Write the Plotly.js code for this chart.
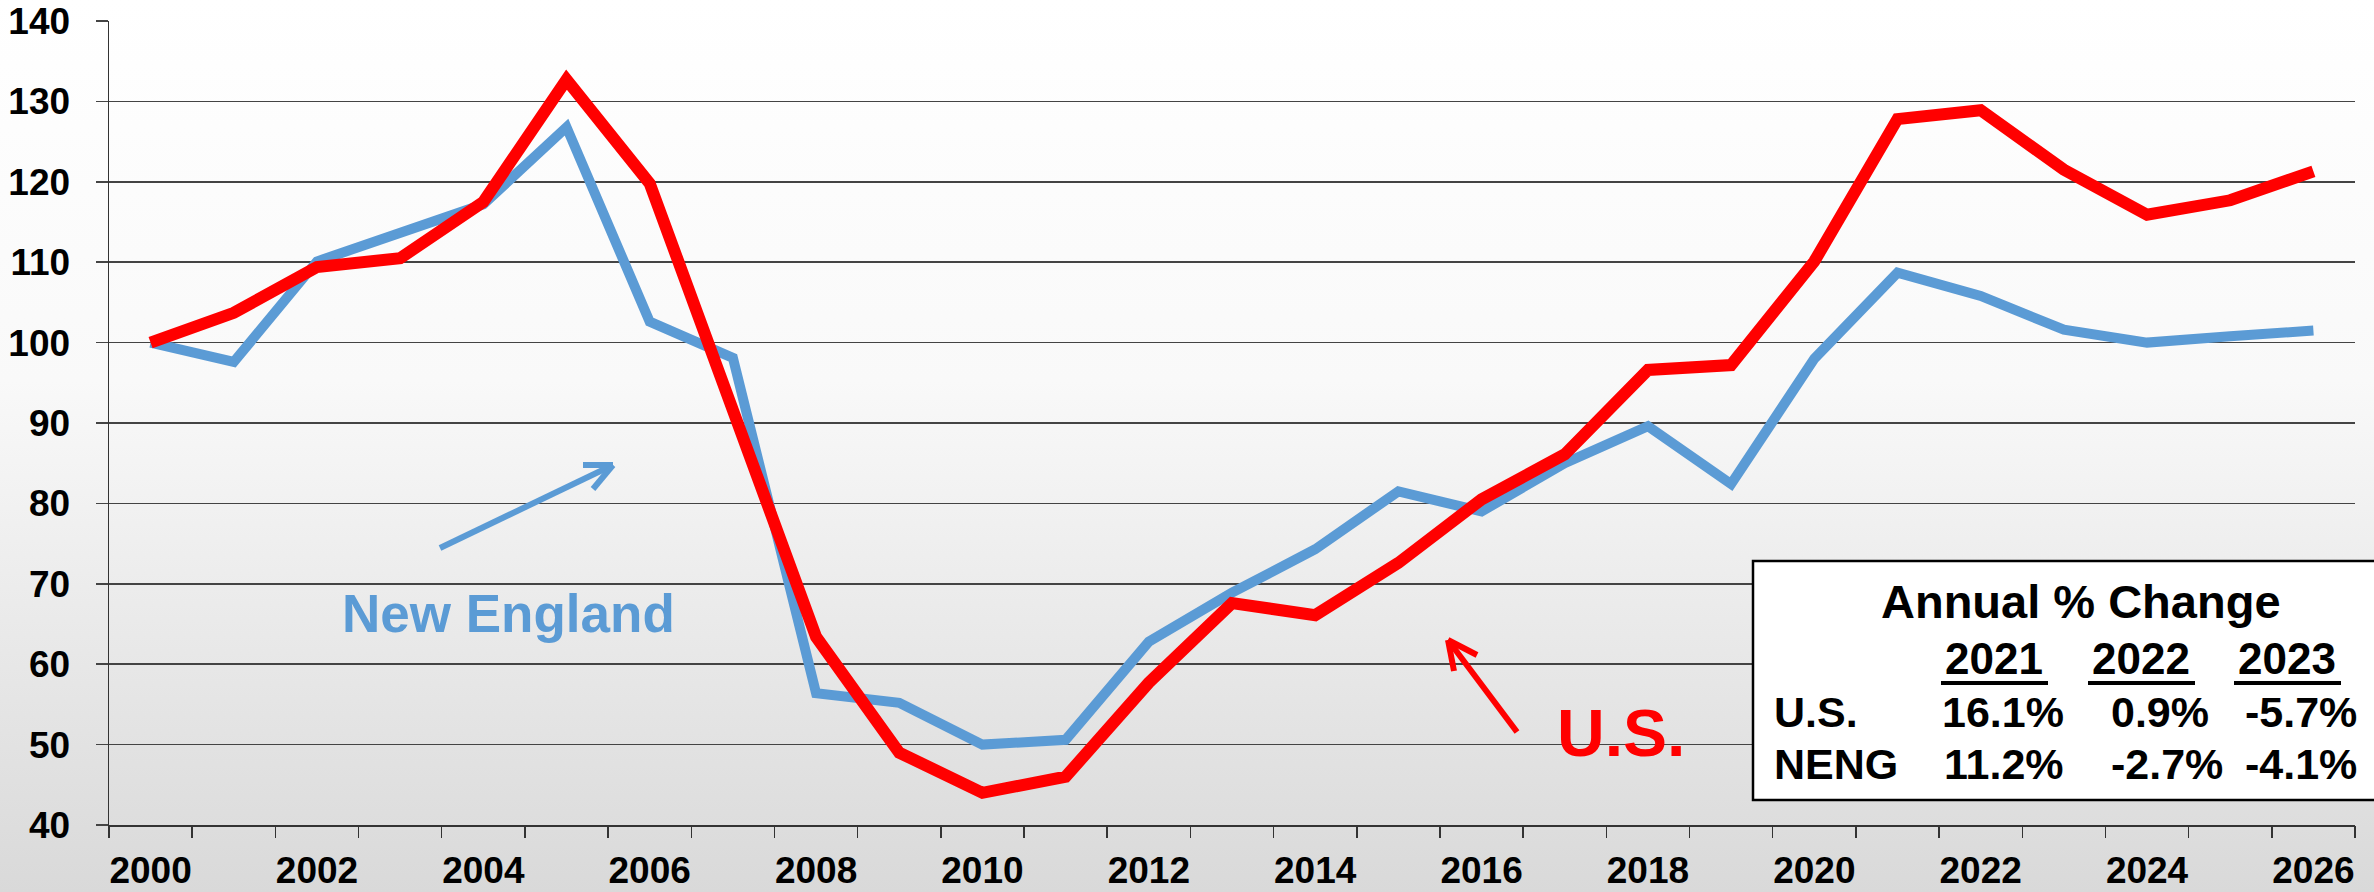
<!DOCTYPE html>
<html>
<head>
<meta charset="utf-8">
<script src="https://cdn.plot.ly/plotly-3.0.1.min.js"></script>
<style>
  html, body { margin: 0; padding: 0; }
  body { width: 2374px; height: 892px; overflow: hidden;
         background: linear-gradient(to bottom, #ffffff 0px, #f9f9f9 380px, #d9d9d9 892px); }
  #chart { width: 2374px; height: 892px; }
</style>
</head>
<body>
<div id="chart"></div>
<script>
// ---- data ----
const years = [2000, 2001, 2002, 2003, 2004, 2005, 2006, 2007, 2008, 2009, 2010, 2011, 2012, 2013,
               2014, 2015, 2016, 2017, 2018, 2019, 2020, 2021, 2022, 2023, 2024, 2025, 2026];
const usIndex = [100, 103.7, 109.4, 110.5, 117.5, 132.7, 119.8, 91.3, 63.4, 49.0, 44.0, 46.0, 57.7, 67.6,
                 66.1, 72.6, 80.5, 86.1, 96.6, 97.2, 110.1, 127.8, 128.9, 121.5, 115.9, 117.7, 121.3];
const nengIndex = [100, 97.6, 110.1, 113.8, 117.2, 126.8, 102.6, 98.1, 56.4, 55.2, 50.0, 50.6, 62.8, 68.9,
                   74.3, 81.5, 79.0, 85.0, 89.6, 82.4, 98.0, 108.7, 105.8, 101.6, 100.0, 100.8, 101.5];
const xTickYears = [2000, 2002, 2004, 2006, 2008, 2010, 2012, 2014, 2016, 2018, 2020, 2022, 2024, 2026];
const yTicks = [40, 50, 60, 70, 80, 90, 100, 110, 120, 130, 140];
const tableTitle = 'Annual % Change';
const tableYears = ['2021', '2022', '2023'];
const rowLabels = ['U.S.', 'NENG'];
const usChange = ['16.1%', '0.9%', '-5.7%'];
const nengChange = ['11.2%', '-2.7%', '-4.1%'];

// ---- geometry helpers (pixel -> paper) ----
const W = 2374, H = 892;
const M = {l: 109, r: 19, t: 21, b: 67};
const PW = W - M.l - M.r, PH = H - M.t - M.b;
const px = x => (x - M.l) / PW;
const py = y => (H - M.b - y) / PH;

const BLUE = '#5b9bd5', RED = '#ff0000';
const FONT = 'Liberation Sans, Arial, sans-serif';

// boundary ticks between years
const boundaryTicks = years.map(y => y - 0.5).concat([years[years.length - 1] + 0.5]);

const traces = [
  {x: years, y: nengIndex, type: 'scatter', mode: 'lines', name: 'New England',
   line: {color: BLUE, width: 10}, hoverinfo: 'skip'},
  {x: years, y: usIndex, type: 'scatter', mode: 'lines', name: 'U.S.',
   line: {color: RED, width: 12}, hoverinfo: 'skip'},
  {x: [], y: [], xaxis: 'x2', yaxis: 'y', type: 'scatter', mode: 'lines', showlegend: false}
];

const shapes = [];
function seg(x0, y0, x1, y1, color, width) {
  shapes.push({type: 'line', xref: 'paper', yref: 'paper', x0: px(x0), y0: py(y0), x1: px(x1), y1: py(y1),
               line: {color: color, width: width}, layer: 'above'});
}
// New England arrow
seg(440, 548, 613, 465, BLUE, 6);
seg(613, 465, 583, 465, BLUE, 6);
seg(613, 465, 593, 489, BLUE, 6);
// U.S. arrow
seg(1517, 732, 1448, 640, RED, 6);
seg(1448, 640, 1477, 655, RED, 6);
seg(1448, 640, 1454, 671, RED, 6);
// table box
shapes.push({type: 'rect', xref: 'paper', yref: 'paper', x0: px(1753), y0: py(800), x1: px(2390), y1: py(561),
             fillcolor: '#ffffff', line: {color: '#000000', width: 2.5}, layer: 'above'});
// header underlines
const ulX = [[1941, 2048], [2088, 2195], [2234, 2341]];
ulX.forEach(r => seg(r[0], 683, r[1], 683, '#000000', 4));

const ann = [];
function txt(text, x, y, size, color, xanchor) {
  ann.push({text: text, xref: 'paper', yref: 'paper', x: px(x), y: py(y), showarrow: false,
            xanchor: xanchor || 'center', yanchor: 'middle',
            font: {family: FONT, size: size, color: color, weight: 'bold'}});
}
txt('New England', 508, 613, 53, BLUE);
txt('U.S.', 1621, 733, 66, RED);
txt(tableTitle, 2081, 601, 47, '#000');
const hdrX = [1994, 2141, 2287];
tableYears.forEach((t, i) => txt(t, hdrX[i], 658, 44, '#000'));
const colX = [1940, 2109, 2243];
txt(rowLabels[0], 1772, 712, 43, '#000', 'left');
txt(rowLabels[1], 1772, 764, 43, '#000', 'left');
usChange.forEach((t, i) => txt(t, colX[i], 712, 43, '#000', 'left'));
nengChange.forEach((t, i) => txt(t, colX[i] + (i === 0 ? 2 : 0), 764, 43, '#000', 'left'));

const layout = {
  width: W, height: H, autosize: false,
  margin: M,
  paper_bgcolor: 'rgba(0,0,0,0)', plot_bgcolor: 'rgba(0,0,0,0)',
  showlegend: false,
  font: {family: FONT, color: '#000'},
  xaxis: {
    type: 'linear', range: [1999.5, 2026.5], tickmode: 'array', tickvals: xTickYears,
    ticks: '', showgrid: false, zeroline: false, showline: true, linecolor: '#333', linewidth: 1.5,
    tickfont: {family: FONT, size: 37, color: '#000', weight: 'bold'}, ticklabelstandoff: 12
  },
  xaxis2: {
    overlaying: 'x', anchor: 'y', type: 'linear', range: [1999.5, 2026.5], tickmode: 'array',
    tickvals: boundaryTicks, ticks: 'outside', ticklen: 12, tickwidth: 1.5, tickcolor: '#333',
    showticklabels: false, showgrid: false, zeroline: false, showline: false
  },
  yaxis: {
    range: [40, 140], tickmode: 'array', tickvals: yTicks, ticks: 'outside', ticklen: 12,
    tickwidth: 1.5, tickcolor: '#444', showgrid: true, gridcolor: '#444', gridwidth: 1.5,
    zeroline: false, showline: true, linecolor: '#333', linewidth: 1.5,
    tickfont: {family: FONT, size: 37, color: '#000', weight: 'bold'}, ticklabelstandoff: 18
  },
  shapes: shapes,
  annotations: ann
};

Plotly.newPlot('chart', traces, layout, {staticPlot: true, displayModeBar: false});
</script>
</body>
</html>
